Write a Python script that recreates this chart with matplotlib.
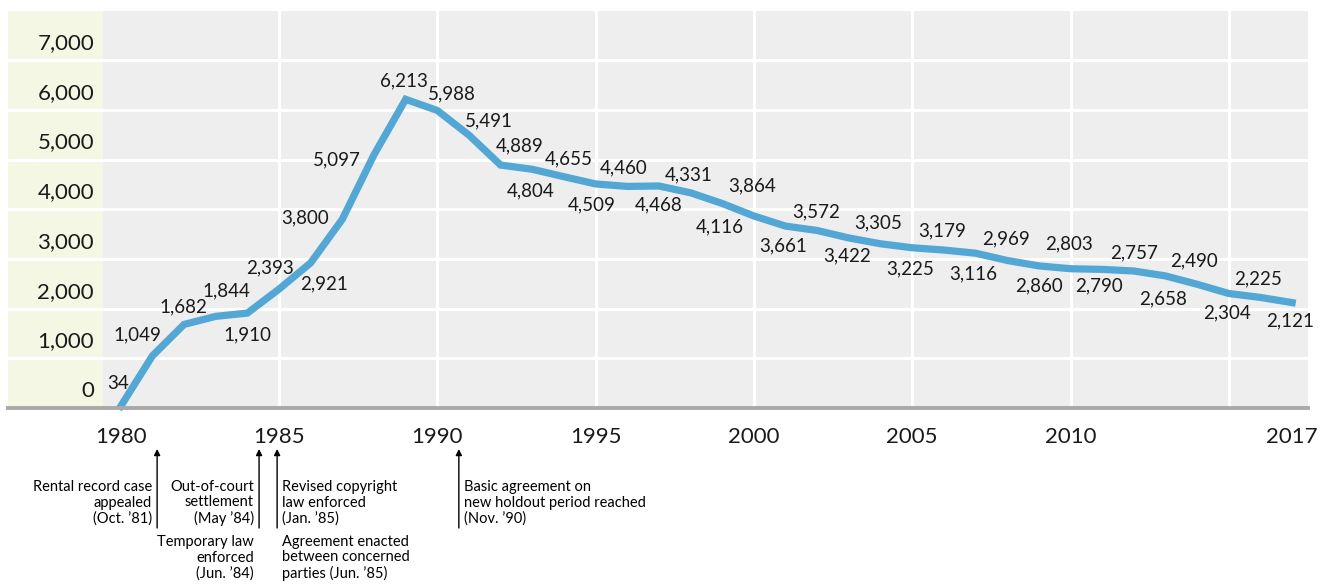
import matplotlib
matplotlib.use('Agg')
import matplotlib.pyplot as plt
import matplotlib.transforms as mtransforms

plt.rcParams['font.family'] = ['Lato', 'DejaVu Sans']

# Data
years = list(range(1980, 2018))
values = [34, 1049, 1682, 1844, 1910, 2393, 2921, 3800, 5097, 6213,
          5988, 5491, 4889, 4804, 4655, 4509, 4460, 4468, 4331, 4116,
          3864, 3661, 3572, 3422, 3305, 3225, 3179, 3116, 2969, 2860,
          2803, 2790, 2757, 2658, 2490, 2304, 2225, 2121]
tick_years = [1980, 1985, 1990, 1995, 2000, 2005, 2010, 2017]
grid_years = [1985, 1990, 1995, 2000, 2005, 2010, 2015]
y_ticks = [0, 1000, 2000, 3000, 4000, 5000, 6000, 7000]

# Events marked below the axis (x position in years)
event_x = [1981.15, 1984.37, 1984.94, 1990.68]
events_above = ['Rental record case\nappealed\n(Oct. \u201981)',
                'Out-of-court\nsettlement\n(May \u201984)',
                'Revised copyright\nlaw enforced\n(Jan. \u201985)',
                'Basic agreement on\nnew holdout period reached\n(Nov. \u201990)']
events_below = [None,
                'Temporary law\nenforced\n(Jun. \u201984)',
                'Agreement enacted\nbetween concerned\nparties (Jun. \u201985)',
                None]
event_side = ['left', 'left', 'right', 'right']

# Label offsets in pixels (dx, dy) relative to each point
label_offsets = [(-3, 23), (-15, 21), (-1, 18), (11, 26), (0, -22), (-9, 21),
                 (13, -21), (-37, 1), (-37, -5), (-2, 18), (15, 17), (20, 14),
                 (19, 19), (-2, -22), (5, 18), (-4, -21), (-4, 19), (0, -19),
                 (-2, 18), (-3, -23), (-2, 30), (-2, -20), (-1, 19), (-2, -18),
                 (-2, 21), (-2, -21), (-2, 19), (-2, -21), (-1, 22), (0, -20),
                 (-2, 25), (-3, -17), (0, 18), (-2, -23), (-3, 23), (-2, -19),
                 (-2, 19), (-2, -18)]

W, H = 1330, 585
fig = plt.figure(figsize=(W / 100, H / 100), dpi=100)
ax = fig.add_axes([8 / W, 1 - 408 / H, 1300 / W, 397 / H])

x_left, x_right = 1976.44, 2017.5
ax.set_xlim(x_left, x_right)
ax.set_ylim(0, 7990)
ax.set_facecolor('#eeeeee')
ax.axvspan(x_left, 1979.44, color='#f5f7e5', zorder=0, lw=0)

for y in y_ticks[1:]:
    ax.axhline(y, color='white', lw=2.2, zorder=1)
for x in grid_years:
    ax.axvline(x, color='white', lw=2.2, zorder=1)

for s in ax.spines.values():
    s.set_visible(False)
ax.axhline(0, color='#a9a9a9', lw=2.8, zorder=4, clip_on=False)

ax.plot(years, values, color='#53a7d4', lw=5.2, solid_joinstyle='miter', zorder=3,
        clip_on=False)

for yr, v, (dx, dy) in zip(years, values, label_offsets):
    ax.annotate(f'{v:,}', xy=(yr, v), xytext=(dx, dy), textcoords='offset pixels',
                ha='center', va='center', fontsize=13.5, color='#1a1a1a', zorder=5)

ax.set_xticks([])
ax.set_yticks([])

# y labels inside the pale panel, sitting above each gridline
for y in y_ticks:
    ax.annotate(f'{y:,}', xy=(1979.16, y), xytext=(0, 17), textcoords='offset pixels',
                ha='right', va='center', fontsize=16, color='#1a1a1a')

# x labels
for yr in tick_years:
    ax.annotate(str(yr), xy=(yr, 0), xytext=(0, -29), textcoords='offset pixels',
                ha='center', va='center', fontsize=16, color='#1a1a1a',
                annotation_clip=False)

trans = mtransforms.blended_transform_factory(ax.transData, fig.transFigure)


def fy(py):
    return 1 - py / H


for x, top, bottom, side in zip(event_x, events_above, events_below, event_side):
    ax.annotate('', xy=(x, fy(449)), xytext=(x, fy(528)), xycoords=trans,
                textcoords=trans, annotation_clip=False,
                arrowprops=dict(arrowstyle='-|>', lw=1.0, color='black',
                                mutation_scale=9, shrinkA=0, shrinkB=0))
    dx = -5 if side == 'left' else 5
    ha = 'right' if side == 'left' else 'left'
    ax.annotate(top, xy=(x, fy(503)), xycoords=trans, xytext=(dx, 0),
                textcoords='offset pixels', ha=ha, va='center', fontsize=10.5,
                linespacing=1.15, multialignment=ha, annotation_clip=False)
    if bottom:
        ax.annotate(bottom, xy=(x, fy(558)), xycoords=trans, xytext=(dx, 0),
                    textcoords='offset pixels', ha=ha, va='center', fontsize=10.5,
                    linespacing=1.15, multialignment=ha, annotation_clip=False)

fig.savefig('out.png', dpi=100, facecolor='white')
